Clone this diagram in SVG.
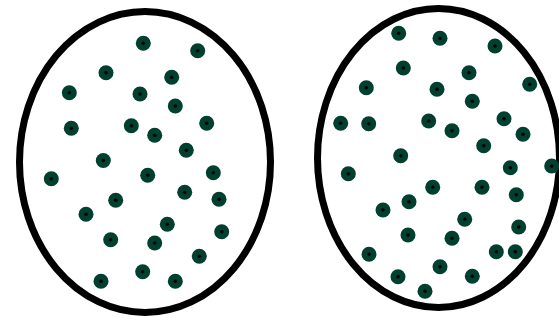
<svg xmlns="http://www.w3.org/2000/svg" xmlns:xlink="http://www.w3.org/1999/xlink" width="559" height="321" viewBox="0 0 559 321">
<style>
.cell{fill:#ffffff;stroke:#000000;stroke-width:7}
.o{fill:#013f2f}
.i{fill:#000000}
</style>
<defs>
<g id="dot"><circle class="o" r="7.5"/><circle class="i" r="1.8"/></g>
</defs>
<rect width="559" height="321" fill="#ffffff"/>
<g id="left">
<ellipse class="cell" cx="145" cy="162" rx="125.5" ry="150.5"/>
<use xlink:href="#dot" x="143.3" y="43.3"/>
<use xlink:href="#dot" x="197.7" y="50.7"/>
<use xlink:href="#dot" x="106" y="72.7"/>
<use xlink:href="#dot" x="171.7" y="77.3"/>
<use xlink:href="#dot" x="69.3" y="92.7"/>
<use xlink:href="#dot" x="140" y="94"/>
<use xlink:href="#dot" x="175.3" y="106"/>
<use xlink:href="#dot" x="71.3" y="128.3"/>
<use xlink:href="#dot" x="131.3" y="125.7"/>
<use xlink:href="#dot" x="206.7" y="123.3"/>
<use xlink:href="#dot" x="154.7" y="135.3"/>
<use xlink:href="#dot" x="186.3" y="150.3"/>
<use xlink:href="#dot" x="103.3" y="160.5"/>
<use xlink:href="#dot" x="51.3" y="178.7"/>
<use xlink:href="#dot" x="147.7" y="175.3"/>
<use xlink:href="#dot" x="213.3" y="172.7"/>
<use xlink:href="#dot" x="184.7" y="192.3"/>
<use xlink:href="#dot" x="115.7" y="200.3"/>
<use xlink:href="#dot" x="219" y="199.3"/>
<use xlink:href="#dot" x="86" y="214.3"/>
<use xlink:href="#dot" x="167.3" y="224.3"/>
<use xlink:href="#dot" x="221.7" y="231.7"/>
<use xlink:href="#dot" x="110.7" y="239.7"/>
<use xlink:href="#dot" x="154.7" y="243"/>
<use xlink:href="#dot" x="199.3" y="256.3"/>
<use xlink:href="#dot" x="142.7" y="271.7"/>
<use xlink:href="#dot" x="101" y="281.3"/>
<use xlink:href="#dot" x="175.3" y="281.3"/>
</g>
<g id="right">
<ellipse class="cell" cx="438.5" cy="158" rx="121" ry="149.5"/>
<use xlink:href="#dot" x="398.7" y="33.3"/>
<use xlink:href="#dot" x="440" y="38.3"/>
<use xlink:href="#dot" x="495" y="46"/>
<use xlink:href="#dot" x="403.3" y="68"/>
<use xlink:href="#dot" x="469" y="72.7"/>
<use xlink:href="#dot" x="366.3" y="87.7"/>
<use xlink:href="#dot" x="437" y="89.3"/>
<use xlink:href="#dot" x="529.7" y="84.3"/>
<use xlink:href="#dot" x="472.3" y="101.3"/>
<use xlink:href="#dot" x="340.7" y="123.3"/>
<use xlink:href="#dot" x="368.7" y="123.7"/>
<use xlink:href="#dot" x="428.7" y="121"/>
<use xlink:href="#dot" x="452" y="130.7"/>
<use xlink:href="#dot" x="504" y="118.7"/>
<use xlink:href="#dot" x="523" y="134.3"/>
<use xlink:href="#dot" x="483.7" y="145.7"/>
<use xlink:href="#dot" x="400.7" y="155.7"/>
<use xlink:href="#dot" x="551.7" y="166"/>
<use xlink:href="#dot" x="348.3" y="173.7"/>
<use xlink:href="#dot" x="510.3" y="167.7"/>
<use xlink:href="#dot" x="432.7" y="187.3"/>
<use xlink:href="#dot" x="482" y="187.3"/>
<use xlink:href="#dot" x="516.3" y="194.7"/>
<use xlink:href="#dot" x="409" y="201.7"/>
<use xlink:href="#dot" x="383" y="210"/>
<use xlink:href="#dot" x="464.7" y="219.3"/>
<use xlink:href="#dot" x="518.7" y="227"/>
<use xlink:href="#dot" x="408" y="235"/>
<use xlink:href="#dot" x="452" y="238.3"/>
<use xlink:href="#dot" x="496.3" y="251.7"/>
<use xlink:href="#dot" x="515.3" y="251.7"/>
<use xlink:href="#dot" x="369" y="254.3"/>
<use xlink:href="#dot" x="440" y="266.7"/>
<use xlink:href="#dot" x="398" y="276.7"/>
<use xlink:href="#dot" x="472.3" y="276.3"/>
<use xlink:href="#dot" x="425" y="291.3"/>
</g>
</svg>
